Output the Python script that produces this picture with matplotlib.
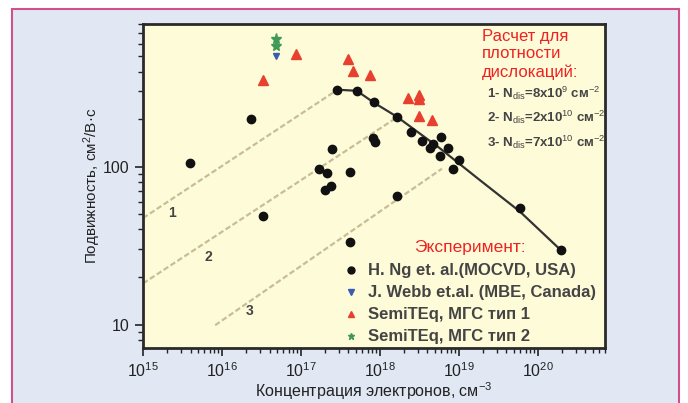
import numpy as np
import matplotlib
matplotlib.use("Agg")
import matplotlib.pyplot as plt
from matplotlib.patches import Rectangle
from matplotlib.lines import Line2D

plt.rcParams['font.family'] = ['Liberation Sans', 'DejaVu Sans']
plt.rcParams['mathtext.fontset'] = 'custom'
plt.rcParams['mathtext.rm'] = 'Liberation Sans'
plt.rcParams['mathtext.it'] = 'Liberation Sans:italic'
plt.rcParams['mathtext.bf'] = 'Liberation Sans:bold'

# H. Ng et al. (MOCVD, USA)
ng_n = [3.9e15, 2.3e16, 3.3e16, 2.9e17, 5.1e17, 8.5e17, 2.45e17, 1.7e17, 2.15e17,
        4.2e17, 8.2e17, 8.7e17, 2.0e17, 2.4e17, 4.2e17, 1.63e18, 2.5e18, 3.4e18,
        4.7e18, 4.3e18, 5.9e18, 7.2e18, 5.7e18, 1.0e19, 8.5e18, 1.63e18, 5.9e19, 1.95e20]
ng_mu = [105, 200, 49, 307, 302, 255, 130, 97, 91,
         93, 151, 143, 71, 75, 33.4, 207, 165, 146,
         139, 131, 155, 131, 116, 110, 97, 65.5, 55, 29.6]

# J. Webb et al. (MBE, Canada)
webb_n = [4.8e16]
webb_mu = [499]

# SemiTEq, type 1
st1_n = [3.3e16, 8.6e16, 4.0e17, 4.6e17, 7.5e17, 2.3e18, 3.1e18, 3.1e18, 3.1e18, 4.6e18]
st1_mu = [355, 517, 482, 406, 380, 273, 285, 269, 208, 196]

# SemiTEq, type 2
st2_n = [4.8e16, 4.8e16]
st2_mu = [643, 584]

# fitted curve through the data
fit_n = [2.86e17, 5.1e17, 8.4e17, 1.64e18, 5.7e18, 1.85e19, 5.9e19, 1.95e20]
fit_mu = [307, 302, 254, 207, 131, 82, 52, 29.6]

# calculated curves for dislocation densities 1-3
calc1_n = [1e15, 2.77e17]
calc1_mu = [47.2, 302]
calc2_n = [1e15, 1.55e18]
calc2_mu = [18.2, 201]
calc3_n = [8.2e15, 6.1e18]
calc3_mu = [9.9, 97]

W, H = 688, 403
fig = plt.figure(figsize=(6.88, 4.03), dpi=100, facecolor='white')
fig.patches.append(Rectangle((12 / W, -0.05), (679 - 12) / W, 1.05 - 9 / H,
                             transform=fig.transFigure, facecolor='#e1e8f4',
                             edgecolor='#d0508a', lw=1.5, zorder=-10))

ax = fig.add_axes([143 / W, 1 - 348 / H, (605 - 143) / W, (348 - 24) / H])
ax.set_facecolor('#fefbd8')
ax.set_xscale('log')
ax.set_yscale('log')
ax.set_xlim(1e15, 10 ** 20.85)
ax.set_ylim(7.1, 800)

for xs, ys in [(calc1_n, calc1_mu), (calc2_n, calc2_mu), (calc3_n, calc3_mu)]:
    ax.plot(xs, ys, color='#c9bd98', lw=1.6, ls=(0, (2.5, 1.2)), zorder=1)

ax.plot(fit_n, fit_mu, color='#333333', lw=1.6, zorder=2)

ax.plot(ng_n, ng_mu, 'o', color='#111111', ms=6, zorder=3)
ax.plot(webb_n, webb_mu, 'v', color='#3a5cb0', ms=5, zorder=3)
ax.plot(st1_n, st1_mu, '^', color='#e8402e', ms=6.5, zorder=3)
ax.plot(st2_n, st2_mu, '*', color='#3f9a55', ms=8, zorder=3)

ax.text(2.33e15, 50.7, '1', fontsize=10, fontweight='bold', color='#444444', ha='center', va='center')
ax.text(6.8e15, 26.7, '2', fontsize=10, fontweight='bold', color='#444444', ha='center', va='center')
ax.text(2.26e16, 12.1, '3', fontsize=10, fontweight='bold', color='#444444', ha='center', va='center')

for s in ax.spines.values():
    s.set_linewidth(2)
    s.set_color('#2a2a2a')
ax.tick_params(which='major', direction='out', length=6, width=1.2, labelsize=11.5, colors='#222222')
ax.tick_params(which='minor', direction='out', length=3.5, width=1, colors='#222222')
ax.yaxis.set_major_formatter(matplotlib.ticker.FuncFormatter(lambda v, p: '%g' % v))

ax.set_ylabel('Подвижность, см$^2$/В·с', fontsize=11, color='#222222', labelpad=0)
ax.set_xlabel('Концентрация электронов, см$^{-3}$', fontsize=11.5, color='#222222', labelpad=0)

red = '#ee2222'
fig.text(482 / W, 1 - 36 / H, 'Расчет для', fontsize=12, color=red, va='center')
fig.text(482 / W, 1 - 54 / H, 'плотности', fontsize=12, color=red, va='center')
fig.text(482 / W, 1 - 72 / H, 'дислокаций:', fontsize=12, color=red, va='center')
calc_labels = [r'1- N$_{\mathrm{dis}}$=8x10$^{9}$ см$^{-2}$',
               r'2- N$_{\mathrm{dis}}$=2x10$^{10}$ см$^{-2}$',
               r'3- N$_{\mathrm{dis}}$=7x10$^{10}$ см$^{-2}$']
for i, lab in enumerate(calc_labels):
    fig.text(487 / W, 1 - (93 + 24.5 * i) / H, lab, fontsize=9.5, fontweight='bold',
             color='#444444', va='center')

handles = [Line2D([], [], ls='', marker='o', color='#111111', ms=5),
           Line2D([], [], ls='', marker='v', color='#3a5cb0', ms=4),
           Line2D([], [], ls='', marker='^', color='#e8402e', ms=5),
           Line2D([], [], ls='', marker='*', color='#3f9a55', ms=5)]
labels = ['H. Ng et. al.(MOCVD, USA)', 'J. Webb et.al. (MBE, Canada)',
          'SemiTEq, МГС тип 1', 'SemiTEq, МГС тип 2']
leg = ax.legend(handles, labels, loc='upper left', bbox_to_anchor=(343 / W, 1 - 240 / H),
                bbox_transform=fig.transFigure, frameon=False, borderpad=0, borderaxespad=0,
                handlelength=1.0, handletextpad=0.5, labelspacing=0.42,
                title='Эксперимент:',
                prop={'size': 12, 'weight': 'bold'})
leg.get_title().set_color(red)
leg.get_title().set_fontsize(12.5)
leg._legend_box.sep = 6
for t in leg.get_texts():
    t.set_color('#444444')

fig.savefig('out.png', dpi=100, facecolor=fig.get_facecolor())
